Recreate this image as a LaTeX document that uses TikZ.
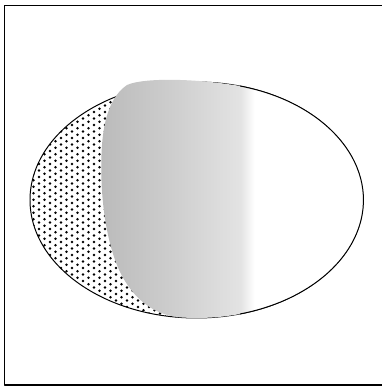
\documentclass[tikz,border=0pt]{standalone}
\usepackage{tikz}
\pgfdeclarehorizontalshading{eggfade}{100bp}{color(0bp)=(black!27); color(25bp)=(black!27); color(37bp)=(black!20); color(50bp)=(black!11); color(52.5bp)=(white); color(71bp)=(white); color(74bp)=(black!6); color(100bp)=(black!6)}
\tikzset{
    eggline/.style={line width=0.7pt},
}

\begin{document}
\begin{tikzpicture}[x=0.025cm, y=-0.025cm, line join=round]
    % 边界
    \useasboundingbox (0,0) rectangle (381,386);
    \draw[line width=1.2pt] (384,5.5) -- (4.5,5.5) -- (4.5,385) -- (384,385);

    % 点阵
    \begin{scope}
        \clip (196.5,200) ellipse[x radius=166.5, y radius=118];
        \foreach \i in {0,...,28}
            \foreach \j in {-12,...,42}
                \fill (28+5.5*\i, 60+6.5*\j+3.25*\i) circle[radius=1.4];
    \end{scope}
    \draw[eggline] (196.5,200) ellipse[x radius=166.5, y radius=118];

    % 渐变
    \shade[shading=eggfade] (240,86)
        arc[start angle=-75, end angle=96, x radius=166.5, y radius=118]
        .. controls (150,314) and (132,296) .. (120,272)
        .. controls (105,240) and (99,190) .. (102,145)
        .. controls (104,118) and (111,96) .. (127,85)
        .. controls (145,77) and (200,79) .. (240,86) -- cycle;

    % 轮廓
    \draw[eggline] (240,86)
        arc[start angle=-75, end angle=75, x radius=166.5, y radius=118];
\end{tikzpicture}
\end{document}
